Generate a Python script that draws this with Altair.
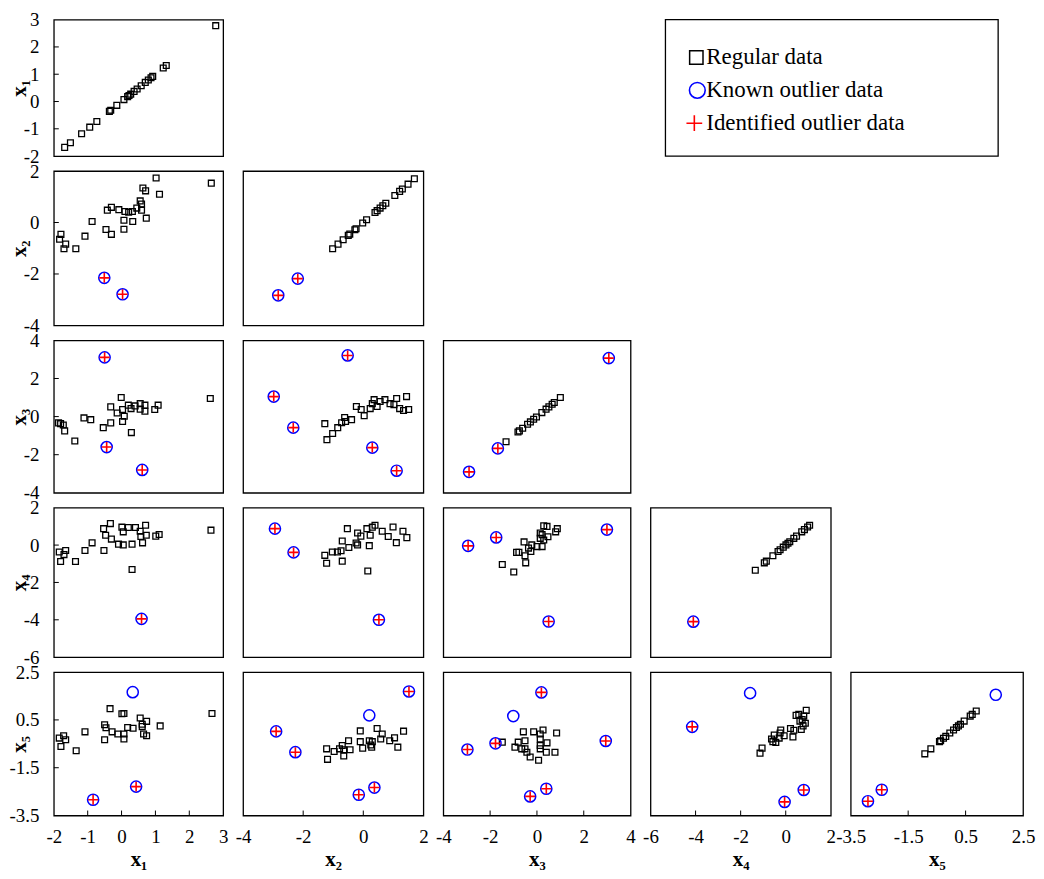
import altair as alt
import pandas as pd

FONT = "Liberation Serif"
PLUS = "M-1,0H1M0,-1V1"

# ---------------- axis layout data ----------------
dom1 = [-2, 3]
dom2 = [-4, 2]
dom3 = [-4, 4]
dom4 = [-6, 2]
dom5 = [-3.5, 2.5]
ticks1 = [-2, -1, 0, 1, 2, 3]
ticks2 = [-4, -2, 0, 2]
ticks3 = [-4, -2, 0, 2, 4]
ticks4 = [-6, -4, -2, 0, 2]
ticks5 = [-3.5, -1.5, 0.5, 2.5]
titles = ["x\u2081", "x\u2082", "x\u2083", "x\u2084", "x\u2085"]

legend_labels = ["Regular data", "Known outlier data", "Identified outlier data"]

# ---------------- diagonal panels (xi vs xi) ----------------
d1_reg = [2.78, 1.32, 1.23, 0.92, 0.87, 0.79, 0.70, 0.58, 0.46, 0.37, 0.27, 0.22, 0.18,
          0.07, -0.14, -0.32, -0.36, -0.73, -0.94, -1.18, -1.51, -1.68]
d1_out = []
d1_id = []

d2_reg = [-1.02, -0.84, -0.67, -0.50, -0.45, -0.28, -0.24, -0.02, 0.11, 0.39, 0.46, 0.56,
          0.65, 0.75, 1.05, 1.21, 1.30, 1.49, 1.70]
d2_out = [-2.83, -2.18]
d2_id = [1, 1]

d3_reg = [-1.32, -0.81, -0.75, -0.61, -0.40, -0.28, -0.14, -0.02, 0.21, 0.39, 0.51, 0.65, 0.74, 1.00]
d3_out = [3.07, -1.67, -2.90]
d3_id = [1, 1, 1]

d4_reg = [-1.35, -0.95, -0.86, -0.57, -0.34, -0.25, -0.11, 0.01, 0.10, 0.18, 0.36, 0.48,
          0.71, 0.83, 0.97, 1.06]
d4_out = [-4.10]
d4_id = [1]

d5_reg = [-0.92, -0.71, -0.41, -0.37, -0.27, -0.19, -0.05, 0.08, 0.18, 0.25, 0.32, 0.45,
          0.66, 0.73, 0.87]
d5_out = [1.55, -2.42, -2.90]
d5_id = [0, 1, 1]

# ---------------- off-diagonal panels ----------------
p21_rx = [2.65, 1.02, 1.12, 0.63, 0.71, 0.55, 0.59, 0.59, 0.45, 0.32, 0.21, 0.10, -0.08, -0.30,
          -0.42, 0.73, 0.33, 0.07, 0.07, -0.46, -0.30, -0.87, -1.08, -1.79, -1.83, -1.65, -1.70, -1.35]
p21_ry = [1.53, 1.73, 1.10, 1.34, 1.23, 0.84, 0.72, 0.48, 0.56, 0.43, 0.40, 0.43, 0.50, 0.59,
          0.48, 0.17, 0.04, 0.09, -0.26, -0.27, -0.46, 0.04, -0.53, -0.46, -0.65, -0.84, -1.02, -1.02]
p21_ox = [-0.51, 0.03]
p21_oy = [-2.15, -2.79]
p21_id = [1, 1]

p31_rx = [2.62, 1.08, 0.98, 0.69, 0.69, 0.55, 0.55, 0.40, 0.28, 0.20, -0.01, 0.03, 0.08, -0.13,
          0.03, -0.32, -0.32, -0.54, 0.29, -0.91, -1.11, -1.38, -1.86, -1.80, -1.72, -1.68]
p31_ry = [0.95, 0.60, 0.37, 0.60, 0.28, 0.68, 0.39, 0.56, 0.42, 0.60, 1.00, 0.37, 0.02, 0.19,
          -0.26, 0.51, -0.33, -0.58, -0.84, -0.16, -0.07, -1.28, -0.33, -0.37, -0.44, -0.75]
p31_ox = [-0.50, -0.44, 0.61]
p31_oy = [3.11, -1.60, -2.80]
p31_id = [1, 1, 1]

p32_rx = [-1.28, -1.21, -1.02, -0.85, -0.72, -0.59, -0.62, -0.39, -0.23, -0.07, 0.03, 0.23,
          0.30, 0.36, 0.46, 0.56, 0.72, 0.89, 1.02, 1.11, 1.21, 1.34, 1.44, 1.51]
p32_ry = [-0.37, -1.21, -0.89, -0.58, -0.32, -0.26, -0.05, -0.16, 0.53, 0.37, 0.05, 0.42,
          0.68, 0.89, 0.53, 0.79, 0.89, 0.68, 0.63, 0.95, 0.42, 0.32, 1.05, 0.37]
p32_ox = [-2.98, -2.33, -0.52, 0.30, 1.11]
p32_oy = [1.05, -0.58, 3.21, -1.63, -2.84]
p32_id = [1, 1, 1, 1, 1]

p41_rx = [2.64, 1.11, 1.01, 0.71, 0.73, 0.57, 0.62, 0.55, 0.41, 0.20, 0.01, 0.05, 0.31, 0.05,
          -0.09, -0.30, -0.47, -0.33, -0.53, -0.52, -0.87, -1.08, -1.36, -1.80, -1.84, -1.70, -1.65, 0.31]
p41_ry = [0.80, 0.57, 0.48, 1.06, 0.53, 0.46, 0.12, 0.74, 0.94, 0.94, 0.96, 0.71, 0.05, 0.01,
          0.05, 0.32, 0.53, 1.15, 0.88, -0.29, 0.12, -0.29, -0.88, -0.88, -0.37, -0.51, -0.29, -1.31]
p41_ox = [0.59]
p41_oy = [-3.95]
p41_id = [1]

p42_rx = [1.45, 1.32, 1.10, 0.99, 0.83, 0.63, 0.39, 0.30, 0.23, 0.12, 0.20, -0.08, -0.19, -0.19,
          -0.24, -0.53, -0.48, -0.70, -0.74, -0.86, -1.03, -1.28, -1.22, -0.70, 0.15]
p42_ry = [0.40, 0.74, 0.13, 0.97, 0.46, 0.74, 1.06, 0.96, 0.53, 0.88, -0.03, 0.48, 0.65, 0.01,
          0.11, 0.88, -0.13, 0.22, -0.30, -0.37, -0.37, -0.55, -0.97, -0.86, -1.39]
p42_ox = [-2.94, -2.32, 0.52]
p42_oy = [0.88, -0.39, -4.00]
p42_id = [1, 1, 1]

p43_rx = [-1.48, -0.99, -0.48, -0.87, -0.77, -0.51, -0.55, -0.26, -0.36, -0.22, 0.00, 0.22,
          0.14, 0.14, 0.29, 0.43, 0.47, 0.80, 0.87, 0.22, 0.29]
p43_ry = [-1.04, -1.44, -0.95, -0.39, -0.39, -0.57, 0.17, -0.34, -0.16, 0.01, -0.08, -0.08,
          0.36, 0.65, 1.03, 1.00, 0.45, 0.71, 0.88, 0.56, 0.27]
p43_ox = [-2.94, -1.74, 2.99, 0.50]
p43_oy = [-0.04, 0.41, 0.83, -4.09]
p43_id = [1, 1, 1, 1]

p51_rx = [2.67, 1.14, 0.74, 0.74, 0.65, 0.55, 0.61, 0.61, 0.34, 0.18, 0.07, 0.01, 0.07, 0.07,
          -0.11, -0.28, -0.34, -0.50, -0.46, -0.50, -1.08, -1.34, -1.71, -1.65, -1.84, -1.79]
p51_ry = [0.77, 0.25, 0.44, -0.16, -0.09, 0.58, 0.32, 0.22, 0.15, 0.18, 0.77, 0.76, -0.09, -0.30,
          -0.09, 0.00, 0.97, 0.30, 0.17, -0.33, 0.00, -0.79, -0.16, -0.33, -0.26, -0.61]
p51_ox = [0.33, 0.43, -0.84]
p51_oy = [1.66, -2.29, -2.84]
p51_id = [0, 1, 1]

p52_rx = [-1.19, -1.22, -0.97, -0.79, -0.70, -0.65, -0.65, -0.49, -0.44, -0.10, -0.10, -0.02,
          0.20, 0.25, 0.30, 0.28, 0.46, 0.63, 0.58, 0.88, 1.04, 1.15, 1.34]
p52_ry = [-1.15, -0.71, -0.82, -0.71, -0.57, -1.01, -0.75, -0.37, -0.75, 0.04, -0.41, -0.68,
          -0.37, -0.55, -0.41, -0.64, 0.14, -0.09, -0.30, -0.37, -0.25, -0.64, 0.03]
p52_ox = [-2.90, -2.26, -0.15, 0.37, 1.52, 0.20]
p52_oy = [0.02, -0.85, -2.63, -2.33, 1.69, 0.69]
p52_id = [1, 1, 1, 1, 1, 0]

p53_rx = [-1.48, -0.94, -0.80, -0.58, -0.51, -0.51, -0.43, -0.29, -0.14, 0.07, 0.14, 0.14,
          0.14, 0.14, 0.26, 0.43, 0.40, 0.77, 0.84, -0.65]
p53_ry = [-0.43, -0.64, -0.43, 0.00, -0.37, -0.71, -0.85, -1.05, 0.00, -1.19, -0.09, -0.30,
          -0.57, -0.71, 0.08, -0.46, -0.85, -0.85, -0.05, -0.71]
p53_ox = [0.19, -2.97, -1.77, 2.94, -0.29, 0.40, -1.01]
p53_oy = [1.65, -0.74, -0.48, -0.38, -2.70, -2.38, 0.66]
p53_id = [1, 1, 1, 1, 1, 1, 0]

p54_rx = [-1.14, -1.05, -0.63, -0.57, -0.51, -0.29, -0.22, -0.07, 0.21, 0.32, 0.36, 0.46, 0.58,
          0.63, 0.69, 0.77, 0.80, 0.87, 0.91, 0.73, -0.44, -0.25]
p54_ry = [-0.89, -0.68, -0.30, -0.41, -0.13, -0.26, 0.08, -0.16, 0.14, -0.21, 0.07, 0.69, 0.73,
          0.45, 0.10, 0.25, 0.66, 0.36, 0.90, 0.52, -0.44, -0.05]
p54_ox = [-4.15, 0.80, -0.05, -1.58]
p54_oy = [0.21, -2.43, -2.93, 1.62]
p54_id = [1, 1, 1, 0]

# ---------------- layout ----------------
col_w = [170, 181, 188, 181, 173]
row_h = [137, 155, 153, 150, 144]
COL_GAP = 20
ROW_GAP = 15
doms = [dom1, dom2, dom3, dom4, dom5]
tvals = [ticks1, ticks2, ticks3, ticks4, ticks5]


def mk_axis(values, title, orient, h):
    common = dict(values=values, title=title, ticks=False, domain=False, grid=False,
                  labelOverlap=False, labelFlush=False, labelBound=False,
                  labelFont=FONT, labelFontSize=19, labelColor="black",
                  titleFont=FONT, titleFontSize=21, titleFontWeight="bold", titleColor="black",
                  labelExpr="'' + datum.value")
    if orient == "left":
        common.update(labelPadding=15, titleX=-34, titleY=h / 2, titleAngle=270,
                      titleAlign="center", titleBaseline="middle")
    else:
        common.update(labelPadding=12, titleY=44, titleAlign="center", titleBaseline="middle")
    return alt.Axis(**common)


def panel(i, j, rx, ry, ox, oy, oid):
    w, h = col_w[j], row_h[i]
    xs = alt.Scale(domain=doms[j], nice=False, zero=False)
    ys = alt.Scale(domain=doms[i], nice=False, zero=False)
    xax = mk_axis(tvals[j], titles[j], "bottom", h) if i == 4 else None
    yax = mk_axis(tvals[i], titles[i], "left", h) if j == 0 else None
    X = alt.X("x:Q", scale=xs, axis=xax)
    Y = alt.Y("y:Q", scale=ys, axis=yax)
    reg = pd.DataFrame({"x": rx, "y": ry})
    layers = [alt.Chart(reg).mark_point(shape="square", filled=False, color="black", size=34,
                                        strokeWidth=1.3, opacity=1).encode(x=X, y=Y)]
    if len(ox) > 0:
        out = pd.DataFrame({"x": ox, "y": oy})
        layers.append(alt.Chart(out).mark_point(shape="circle", filled=False, color="#0000ff",
                                                size=125, strokeWidth=1.5, opacity=1).encode(x=X, y=Y))
        idf = out[[bool(k) for k in oid]]
        if len(idf) > 0:
            layers.append(alt.Chart(idf).mark_point(shape=PLUS, filled=False, color="#ff0000",
                                                    size=100, strokeWidth=1.6, opacity=1).encode(x=X, y=Y))
    if j == 0:
        tdf = pd.DataFrame({"y": [v for v in tvals[i] if doms[i][0] < v < doms[i][1]]})
        layers.append(alt.Chart(tdf).mark_rule(color="black", strokeWidth=1).encode(
            y=Y, x=alt.value(0), x2=alt.value(5)))
    if i == 4:
        tdf = pd.DataFrame({"x": [v for v in tvals[j] if doms[j][0] < v < doms[j][1]]})
        layers.append(alt.Chart(tdf).mark_rule(color="black", strokeWidth=1).encode(
            x=X, y=alt.value(h), y2=alt.value(h - 5)))
    return alt.layer(*layers).properties(width=w, height=h)


def blank():
    return alt.Chart(pd.DataFrame({"k": [0]})).mark_point(opacity=0).encode(
        x=alt.value(0), y=alt.value(0)).properties(
        width=1, height=1, view=alt.ViewBackground(stroke="transparent"))


# legend panel (sits in the last column of the first row, drawn leftwards)
LX0 = -186
leg_df = pd.DataFrame({"label": legend_labels})
LY = alt.Y("label:N", scale=alt.Scale(domain=legend_labels, range=[38, 104], padding=0), axis=None)
leg_frame = alt.Chart(pd.DataFrame({"k": [0]})).mark_rect(
    fill="transparent", stroke="black", strokeWidth=1.3).encode(
    x=alt.value(LX0), x2=alt.value(LX0 + 334), y=alt.value(0), y2=alt.value(137))
leg_sq = alt.Chart(leg_df.iloc[[0]]).mark_point(shape="square", filled=False, color="black", size=180,
                                                strokeWidth=1.5, opacity=1).encode(x=alt.value(LX0 + 31), y=LY)
leg_ci = alt.Chart(leg_df.iloc[[1]]).mark_point(shape="circle", filled=False, color="#0000ff", size=250,
                                                strokeWidth=1.6, opacity=1).encode(x=alt.value(LX0 + 32), y=LY)
leg_pl = alt.Chart(leg_df.iloc[[2]]).mark_point(shape=PLUS, filled=False, color="#ff0000", size=250,
                                                strokeWidth=1.6, opacity=1).encode(x=alt.value(LX0 + 29), y=LY)
leg_tx = alt.Chart(leg_df).mark_text(align="left", baseline="middle", font=FONT, fontSize=23,
                                     color="black").encode(x=alt.value(LX0 + 41), y=LY, text="label:N")
legend = alt.layer(leg_frame, leg_sq, leg_ci, leg_pl, leg_tx).properties(
    width=20, height=20, view=alt.ViewBackground(stroke="transparent"))

diag = {0: (d1_reg, d1_out, d1_id), 1: (d2_reg, d2_out, d2_id), 2: (d3_reg, d3_out, d3_id),
        3: (d4_reg, d4_out, d4_id), 4: (d5_reg, d5_out, d5_id)}
off = {(1, 0): (p21_rx, p21_ry, p21_ox, p21_oy, p21_id),
       (2, 0): (p31_rx, p31_ry, p31_ox, p31_oy, p31_id),
       (2, 1): (p32_rx, p32_ry, p32_ox, p32_oy, p32_id),
       (3, 0): (p41_rx, p41_ry, p41_ox, p41_oy, p41_id),
       (3, 1): (p42_rx, p42_ry, p42_ox, p42_oy, p42_id),
       (3, 2): (p43_rx, p43_ry, p43_ox, p43_oy, p43_id),
       (4, 0): (p51_rx, p51_ry, p51_ox, p51_oy, p51_id),
       (4, 1): (p52_rx, p52_ry, p52_ox, p52_oy, p52_id),
       (4, 2): (p53_rx, p53_ry, p53_ox, p53_oy, p53_id),
       (4, 3): (p54_rx, p54_ry, p54_ox, p54_oy, p54_id)}

cells = []
for i in range(5):
    for j in range(5):
        if i == j:
            r, o, idf = diag[i]
            cells.append(panel(i, j, r, r, o, o, idf))
        elif j < i:
            cells.append(panel(i, j, *off[(i, j)]))
        elif i == 0 and j == 4:
            cells.append(legend)
        else:
            cells.append(blank())

chart = alt.concat(*cells, columns=5, align="each", bounds="flush",
                   spacing={"row": ROW_GAP, "column": COL_GAP}).properties(
    padding={"left": 0, "top": 0, "right": 0, "bottom": 0}, background="white"
).configure_view(stroke="black", strokeWidth=1.3)

chart.save("out.html", embed_options={"renderer": "svg", "actions": False})
